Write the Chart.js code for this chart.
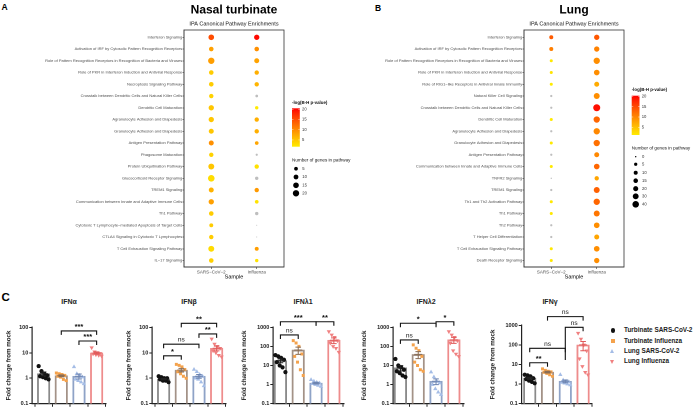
<!DOCTYPE html>
<html>
<head>
<meta charset="utf-8">
<script src="https://cdn.jsdelivr.net/npm/chart.js@4.4.1/dist/chart.umd.min.js"></script>
<style>
  body { margin: 0; background: #fff; width: 696px; height: 408px; overflow: hidden; position: relative;
         font-family: "Liberation Sans", Arial, sans-serif; }
  canvas { position: absolute; }
  .txt { position: absolute; white-space: nowrap; line-height: 1; color: #111; }
  .letter { font-weight: bold; color: #000; }
  .gtitle { font-size: 7px; font-weight: bold; width: 60px; text-align: center; color: #222; top: 298px; }
  .leg { position: absolute; left: 609px; font-size: 6.4px; font-weight: bold; color: #222; line-height: 1; }
  .leg i { display: inline-block; position: absolute; left: 0; }
  .leg span { position: absolute; left: 15px; top: -3.3px; white-space: nowrap; }
</style>
</head>
<body>
<div class="txt letter" style="left:1.5px;top:3px;font-size:8.5px">A</div>
<div class="txt letter" style="left:375px;top:4px;font-size:8.5px">B</div>
<div class="txt letter" style="left:1.5px;top:292px;font-size:11.5px">C</div>

<canvas id="nasal" style="left:0;top:0"></canvas>
<canvas id="lung" style="left:350px;top:0"></canvas>

<div class="txt gtitle" style="left:39px">IFNα</div>
<div class="txt gtitle" style="left:159px">IFNβ</div>
<div class="txt gtitle" style="left:273px">IFNλ1</div>
<div class="txt gtitle" style="left:396px">IFNλ2</div>
<div class="txt gtitle" style="left:520px">IFNγ</div>

<canvas id="ifna" style="left:0;top:300px"></canvas>
<canvas id="ifnb" style="left:120px;top:300px"></canvas>
<canvas id="ifnl1" style="left:240px;top:300px"></canvas>
<canvas id="ifnl2" style="left:360px;top:300px"></canvas>
<canvas id="ifng" style="left:480px;top:300px"></canvas>

<div class="leg" style="top:330.5px"><i style="width:4.4px;height:4.4px;border-radius:50%;background:#111;left:1.5px;top:-2.2px"></i><span>Turbinate SARS-CoV-2</span></div>
<div class="leg" style="top:341px"><i style="width:4px;height:4px;background:#f4a24c;left:1.7px;top:-2px"></i><span>Turbinate Influenza</span></div>
<div class="leg" style="top:351.3px"><i style="width:0;height:0;border-left:2.5px solid transparent;border-right:2.5px solid transparent;border-bottom:4.2px solid #a5bde6;left:1.2px;top:-2.4px"></i><span>Lung SARS-CoV-2</span></div>
<div class="leg" style="top:361.5px"><i style="width:0;height:0;border-left:2.5px solid transparent;border-right:2.5px solid transparent;border-top:4.2px solid #f08080;left:1.2px;top:-2px"></i><span>Lung Influenza</span></div>

<script>
// ---------- panel A / B: IPA pathway enrichment ----------
const samples = ["SARS\u2212CoV\u22122", "Influenza"];

const nasalPathways = [
  "Interferon Signaling",
  "Activation of IRF by Cytosolic Pattern Recognition Receptors",
  "Role of Pattern Recognition Receptors in Recognition of Bacteria and Viruses",
  "Role of PKR in Interferon Induction and Antiviral Response",
  "Necroptosis Signaling Pathway",
  "Crosstalk between Dendritic Cells and Natural Killer Cells",
  "Dendritic Cell Maturation",
  "Agranulocyte Adhesion and Diapedesis",
  "Granulocyte Adhesion and Diapedesis",
  "Antigen Presentation Pathway",
  "Phagosome Maturation",
  "Protein Ubiquitination Pathway",
  "Glucocorticoid Receptor Signaling",
  "TREM1 Signaling",
  "Communication between Innate and Adaptive Immune Cells",
  "Th1 Pathway",
  "Cytotoxic T Lymphocyte\u2212mediated Apoptosis of Target Cells",
  "CTLA4 Signaling in Cytotoxic T Lymphocytes",
  "T Cell Exhaustion Signaling Pathway",
  "IL\u221217 Signaling"
];
// -log(B-H p-value); null = not significant (grey)
const nasalSarsLogP = [15.2, 8.3, 8.5, 4.5, 4.5, 4, 5, 5, 5, 9.6, 4, 5, 3, 6.8, 8.3, 4.5, 4.5, 4.5, 3.2, 4.2];
const nasalSarsGenes = [15, 9, 20, 9, 9, 8, 13, 13, 11, 11, 8, 17, 22, 11, 13, 9, 6, 8, 17, 9];
const nasalFluLogP = [20, 9.6, 8, 7, 6.5, null, 1.9, 7, 7, 7.8, null, 2.7, null, 8.8, 2.5, null, null, null, 8.5, 2.5];
const nasalFluGenes = [13, 9, 11, 8, 8, 2, 4, 8, 8, 5, 1, 8, 4, 8, 5, 4, 0, 0, 6, 4];
const nasalColorTicks = [20, 15, 10, 5];
const nasalSizeTicks = [5, 10, 15, 20];

const lungPathways = [
  "Interferon Signaling",
  "Activation of IRF by Cytosolic Pattern Recognition Receptors",
  "Role of Pattern Recognition Receptors in Recognition of Bacteria and Viruses",
  "Role of PKR in Interferon Induction and Antiviral Response",
  "Role of RIG1\u2212like Receptors in Antiviral Innate Immunity",
  "Natural Killer Cell Signaling",
  "Crosstalk between Dendritic Cells and Natural Killer Cells",
  "Dendritic Cell Maturation",
  "Agranulocyte Adhesion and Diapedesis",
  "Granulocyte Adhesion and Diapedesis",
  "Antigen Presentation Pathway",
  "Communication between Innate and Adaptive Immune Cells",
  "TNFR2 Signaling",
  "TREM1 Signaling",
  "Th1 and Th2 Activation Pathway",
  "Th1 Pathway",
  "Th2 Pathway",
  "T Helper Cell Differentiation",
  "T Cell Exhaustion Signaling Pathway",
  "Death Receptor Signaling"
];
const lungSarsLogP = [13.7, 10.8, 1.6, 2, 1.4, null, null, 1.5, null, 1.5, null, 1.5, null, null, 1.7, 1.7, null, null, 1.7, 1.7];
const lungSarsGenes = [10, 10, 4, 4, 4, 1, 1, 4, 1, 4, 1, 4, 0, 1, 4, 4, 1, 1, 4, 4];
const lungFluLogP = [14, 10.5, 9.5, 9.5, 7, 9.5, 19.5, 12.8, 10, 12, 10, 12.8, 7.5, 13.3, 12.8, 11.5, 9.5, 7.5, 9.5, 9.5];
const lungFluGenes = [23, 23, 36, 27, 19, 31, 47, 36, 36, 36, 19, 27, 13, 31, 36, 31, 27, 19, 27, 23];
const lungColorTicks = [20, 15, 10, 5];
const lungSizeTicks = [0, 5, 10, 15, 20, 30, 40];

// ---------- panel C: fold change from mock ----------
const groups = ["Turbinate SARS-CoV-2", "Turbinate Influenza", "Lung SARS-CoV-2", "Lung Influenza"];

const ifnaPoints = [[3.0, 1.9, 1.5, 1.3, 1.2, 1.1, 1.0, 0.9], [1.6, 1.5, 1.4, 1.3, 1.2, 1.1, 0.9, 0.8],
                    [2.8, 1.5, 1.3, 1.1, 0.9, 0.8, 0.7, 0.6], [16, 11, 10, 9.5, 9, 8.5, 8, 7.5]];
const ifnaMean = [1.5, 1.25, 1.2, 9.8];
const ifnaSem = [0.25, 0.1, 0.27, 1.0];
const ifnaSig = [[1, 3, 72, "***"], [2, 3, 29, "***"]];

const ifnbPoints = [[1.2, 1.1, 1.0, 1.0, 0.9, 0.8, 0.8, 0.7], [3.5, 3.2, 2.8, 2.2, 1.8, 1.5, 1.2, 1.0],
                    [2.2, 1.8, 1.4, 1.2, 1.0, 0.9, 0.7, 0.5], [35, 22, 18, 15, 12, 10, 8, 7]];
const ifnbMean = [0.93, 2.1, 1.2, 15];
const ifnbSem = [0.06, 0.35, 0.2, 3.2];
const ifnbSig = [[1, 3, 143, "**"], [2, 3, 55, "**"], [0, 2, 21.7, "ns"], [0, 1, 7.6, "*"]];

const ifnl1Points = [[35, 30, 25, 20, 15, 10, 8, 4.5], [200, 150, 100, 40, 30, 15, 6, 3],
                     [1.8, 1.5, 1.3, 1.2, 1.1, 1.0, 0.9, 0.8], [600, 400, 300, 200, 150, 100, 80, 50]];
const ifnl1Mean = [18, 65, 1.2, 210];
const ifnl1Sem = [4, 27, 0.12, 70];
const ifnl1Sig = [[0, 2, 1950, "***"], [2, 3, 1950, "**"], [0, 1, 398, "ns"]];

const ifnl2Points = [[22, 10, 8, 6, 5, 4, 3, 2.5], [120, 80, 60, 30, 15, 10, 6, 5],
                     [4.5, 2.5, 1.5, 1.2, 1.0, 0.6, 0.4, 0.3], [600, 400, 300, 200, 150, 60, 40, 30]];
const ifnl2Mean = [7.5, 38, 1.5, 220];
const ifnl2Sem = [2.3, 15, 0.5, 75];
const ifnl2Sig = [[0, 2, 1630, "*"], [2, 3, 1950, "*"], [0, 1, 219, "ns"]];

const ifngPoints = [[3.0, 2.8, 2.5, 2.0, 1.8, 1.5, 1.3, 1.1], [6.0, 5.0, 4.5, 4.2, 4.0, 3.5, 3.0, 2.5],
                    [3.0, 1.6, 1.4, 1.3, 1.2, 1.1, 1.0, 0.9], [400, 200, 100, 50, 20, 8, 4, 3]];
const ifngMean = [2.0, 4.1, 1.4, 100];
const ifngSem = [0.25, 0.4, 0.23, 50];
const ifngSig = [[1, 3, 2770, "ns"], [2, 3, 794, "ns", 17], [0, 2, 67, "ns"], [0, 1, 12.3, "**"]];

const ticks100 = [0.1, 1, 10, 100];
const ticks1000 = [0.1, 1, 10, 100, 1000];

// ---------- styling ----------
const FONT = '"Liberation Sans", Arial, sans-serif';
Chart.defaults.font.family = FONT;
const barEdge = ["#8a8a8a", "#a39287", "#8fa3c7", "#ee8c8c"];
const errColor = ["#222222", "#8a6d55", "#6d84b0", "#e05a5a"];
const dotColor = ["#111111", "#f4a24c", "#a5bde6", "#f08080"];
const dotStyle = ["circle", "rect", "triangle", "triangle"];

function heat(v, lo, hi) {
  if (v === null) return "#bebebe";
  const t = Math.min(1, Math.max(0, (v - lo) / (hi - lo)));
  return `rgb(255,${Math.round(236 * Math.pow(1 - t, 0.9))},0)`;
}

const boxPlugin = {
  id: "box",
  afterDraw(chart) {
    const { ctx, chartArea: a } = chart;
    ctx.save();
    ctx.strokeStyle = "#333";
    ctx.lineWidth = 0.8;
    ctx.strokeRect(a.left, a.top, a.right - a.left, a.bottom - a.top);
    ctx.restore();
  }
};

const heatLegend = {
  id: "heatLegend",
  afterDraw(chart, args, o) {
    const ctx = chart.ctx;
    ctx.save();
    ctx.fillStyle = "#111";
    ctx.textBaseline = "middle";
    ctx.font = `bold 4.4px ${FONT}`;
    ctx.fillText("-log(B-H p-value)", o.x, o.titleY);
    const g = ctx.createLinearGradient(0, o.barBottom, 0, o.barTop);
    for (let i = 0; i <= 10; i++) g.addColorStop(i / 10, heat(o.lo + (o.hi - o.lo) * i / 10, o.lo, o.hi));
    ctx.fillStyle = g;
    ctx.fillRect(o.x, o.barTop, 7.8, o.barBottom - o.barTop);
    ctx.font = `4.2px ${FONT}`;
    o.colorTicks.forEach(v => {
      const yy = o.barBottom - (v - o.lo) / (o.hi - o.lo) * (o.barBottom - o.barTop);
      ctx.strokeStyle = "#fff";
      ctx.lineWidth = 0.4;
      ctx.beginPath(); ctx.moveTo(o.x, yy); ctx.lineTo(o.x + 1.5, yy);
      ctx.moveTo(o.x + 6.3, yy); ctx.lineTo(o.x + 7.8, yy); ctx.stroke();
      ctx.fillStyle = "#333";
      ctx.fillText(String(v), o.x + 10, yy);
    });
    ctx.fillStyle = "#111";
    ctx.font = `4.6px ${FONT}`;
    ctx.fillText("Number of genes in pathway", o.x, o.sizeTitleY);
    o.sizeTicks.forEach((v, i) => {
      const yy = o.sizeY[i];
      ctx.fillStyle = "#000";
      ctx.beginPath(); ctx.arc(o.x + 4, yy, o.size(v), 0, Math.PI * 2); ctx.fill();
      ctx.fillStyle = "#333";
      ctx.font = `4.2px ${FONT}`;
      ctx.fillText(String(v), o.x + 10.3, yy);
    });
    ctx.restore();
  }
};

function pathwayChart(id, width, title, pathways, sarsP, sarsG, fluP, fluG, o) {
  const pts = [];
  pathways.forEach((p, i) => {
    pts.push({ x: 0, y: i, r: o.size(sarsG[i]), c: heat(sarsP[i], o.lo, o.hi) });
    pts.push({ x: 1, y: i, r: o.size(fluG[i]), c: heat(fluP[i], o.lo, o.hi) });
  });
  new Chart(document.getElementById(id), {
    type: "bubble",
    data: { datasets: [{ data: pts, backgroundColor: c => (c.raw ? c.raw.c : "#bebebe"), borderWidth: 0 }] },
    options: {
      responsive: false, animation: false, devicePixelRatio: 2,
      layout: { padding: { left: 0, right: o.padRight, top: 0, bottom: 0 } },
      plugins: {
        legend: { display: false }, tooltip: { enabled: false },
        title: { display: true, text: title, fullSize: false, color: "#000",
                 font: { size: 12, weight: "bold" }, padding: { top: 3, bottom: 2 } },
        subtitle: { display: true, text: "IPA Canonical Pathway Enrichments", fullSize: false, color: "#111",
                    font: { size: 5.5 }, padding: { top: 1.3, bottom: 2.7 } },
        heatLegend: o
      },
      scales: {
        x: {
          type: "linear", min: -0.6, max: 1.6,
          afterBuildTicks: s => { s.ticks = samples.map((_, i) => ({ value: i })); },
          afterFit: s => { s.height = 16; },
          ticks: { callback: v => samples[v], font: { size: 4.5 }, color: "#4d4d4d", padding: 0.5, autoSkip: false, maxRotation: 0 },
          grid: { drawOnChartArea: false, tickLength: 2, color: "#333", lineWidth: 0.6 },
          border: { color: "#333", width: 0.8 },
          title: { display: true, text: "Sample", color: "#000", font: { size: 5.5 }, padding: { top: 0, bottom: 2.7 } }
        },
        y: {
          type: "linear", reverse: true, min: -0.62, max: 19.55,
          afterBuildTicks: s => { s.ticks = pathways.map((_, i) => ({ value: i })); },
          afterFit: s => { s.width = o.axisWidth; },
          ticks: { callback: v => pathways[v], font: { size: 4 }, color: "#4d4d4d", padding: 0.3, autoSkip: false },
          grid: { drawOnChartArea: false, tickLength: 1.5, color: "#333", lineWidth: 0.6 },
          border: { color: "#333", width: 0.8 }
        }
      }
    },
    plugins: [boxPlugin, heatLegend]
  });
  const cv = document.getElementById(id);
  cv.style.width = width + "px";
}

const nasalSize = g => 0.5 + 0.6 * Math.sqrt(g);
const lungSize = g => 0.7 + 0.41 * Math.sqrt(g);

document.getElementById("nasal").width = 360; document.getElementById("nasal").height = 283;
document.getElementById("lung").width = 346; document.getElementById("lung").height = 283;

pathwayChart("nasal", 360, "Nasal turbinate", nasalPathways, nasalSarsLogP, nasalSarsGenes, nasalFluLogP, nasalFluGenes, {
  axisWidth: 184, padRight: 76, lo: 1.7, hi: 20.5, size: nasalSize,
  x: 292, titleY: 103, barTop: 108.3, barBottom: 146.7, colorTicks: nasalColorTicks,
  sizeTitleY: 160, sizeTicks: nasalSizeTicks, sizeY: [168.7, 177, 185.3, 193.3]
});
pathwayChart("lung", 346, "Lung", lungPathways, lungSarsLogP, lungSarsGenes, lungFluLogP, lungFluGenes, {
  axisWidth: 174, padRight: 72, lo: 1.3, hi: 20.3, size: lungSize,
  x: 281.7, titleY: 90, barTop: 95.7, barBottom: 135, colorTicks: lungColorTicks,
  sizeTitleY: 148.3, sizeTicks: lungSizeTicks, sizeY: [156.7, 164.3, 172.7, 180.7, 188.7, 196.3, 204.3]
});

// ---------- fold-change bar charts ----------
const errorBars = {
  id: "errorBars",
  afterDatasetsDraw(chart) {
    const ds = chart.data.datasets[0];
    const meta = chart.getDatasetMeta(0);
    const y = chart.scales.y, ctx = chart.ctx;
    ctx.save();
    ctx.lineWidth = 1;
    meta.data.forEach((bar, i) => {
      const m = ds.data[i].y, s = ds.sem[i];
      const yt = y.getPixelForValue(m + s), yb = y.getPixelForValue(Math.max(m - s, 0.1));
      const ym = y.getPixelForValue(m);
      ctx.strokeStyle = errColor[i];
      ctx.beginPath();
      ctx.moveTo(bar.x, yt); ctx.lineTo(bar.x, yb);
      ctx.moveTo(bar.x - 2.8, yt); ctx.lineTo(bar.x + 2.8, yt);
      ctx.moveTo(bar.x - 2.8, yb); ctx.lineTo(bar.x + 2.8, yb);
      ctx.moveTo(bar.x - 4, ym); ctx.lineTo(bar.x + 4, ym);
      ctx.stroke();
    });
    ctx.restore();
  }
};

const sigBrackets = {
  id: "sigBrackets",
  afterDatasetsDraw(chart, args, opts) {
    const { ctx, scales: { x, y } } = chart;
    ctx.save();
    ctx.strokeStyle = "#111"; ctx.fillStyle = "#111"; ctx.lineWidth = 1.1;
    ctx.textAlign = "center"; ctx.textBaseline = "alphabetic";
    (opts.list || []).forEach(([a, b, v, text, legTo]) => {
      const xa = x.getPixelForValue(a), xb = x.getPixelForValue(b), yp = y.getPixelForValue(v);
      const la = legTo ? y.getPixelForValue(legTo) : yp + 4;
      ctx.beginPath();
      ctx.moveTo(xa, la); ctx.lineTo(xa, yp); ctx.lineTo(xb, yp); ctx.lineTo(xb, yp + 4);
      ctx.stroke();
      if (text === "ns") { ctx.font = `6.5px ${FONT}`; ctx.fillText(text, (xa + xb) / 2, yp - 2.5); }
      else { ctx.font = `bold 7.5px ${FONT}`; ctx.fillText(text, (xa + xb) / 2, yp - 1.8); }
    });
    ctx.restore();
  }
};

// horizontal spread of the dots inside each bar (layout only)
const spread = k => ((k % 4) - 1.5) * 0.16 + (k >= 4 ? 0.08 : 0) - 0.04;

function foldChart(id, points, mean, sem, sig, yTicks, o) {
  const cv = document.getElementById(id);
  cv.width = 120; cv.height = 108;
  const datasets = [{
    type: "bar", data: mean.map((m, i) => ({ x: i, y: m })), sem,
    backgroundColor: "rgba(255,255,255,0)", borderColor: barEdge, borderWidth: 1.2,
    barThickness: 12.5, order: 2
  }];
  points.forEach((arr, g) => datasets.push({
    type: "scatter", label: groups[g], order: 1,
    data: arr.map((v, k) => ({ x: g + spread(k), y: v })),
    pointStyle: dotStyle[g], pointRotation: g === 3 ? 180 : 0,
    pointRadius: g === 0 ? 2.1 : g === 1 ? 2.1 : 2.5,
    pointBackgroundColor: dotColor[g], pointBorderColor: dotColor[g], pointBorderWidth: 0
  }));
  new Chart(cv, {
    type: "bar",
    data: { datasets },
    options: {
      responsive: false, animation: false, devicePixelRatio: 2,
      layout: { padding: { left: 0, right: o.padRight, top: o.padTop, bottom: 0 } },
      plugins: { legend: { display: false }, tooltip: { enabled: false }, sigBrackets: { list: sig } },
      scales: {
        x: {
          type: "linear", min: o.xmin, max: o.xmax, offset: false,
          afterBuildTicks: s => { s.ticks = groups.map((_, i) => ({ value: i })); },
          afterFit: s => { s.height = o.xHeight; },
          ticks: { display: false },
          grid: { drawOnChartArea: false, tickLength: 3, color: "#222", lineWidth: 1 },
          border: { color: "#222", width: 1.2 }
        },
        y: {
          type: "logarithmic", min: 0.1, max: yTicks[yTicks.length - 1],
          afterBuildTicks: s => { s.ticks = yTicks.map(v => ({ value: v })); },
          afterFit: s => { s.width = o.axisWidth; },
          ticks: { callback: v => String(v), font: { size: 5.5, weight: "bold" }, color: "#222", padding: 1, autoSkip: false },
          grid: { drawOnChartArea: false, tickLength: 3, color: "#222", lineWidth: 1 },
          border: { color: "#222", width: 1.2 },
          title: { display: true, text: "Fold change from mock", color: "#222",
                   font: { size: 6.2, weight: "bold" }, padding: { top: o.titlePad, bottom: 0 } }
        }
      }
    },
    plugins: [errorBars, sigBrackets]
  });
}

foldChart("ifna", ifnaPoints, ifnaMean, ifnaSem, ifnaSig, ticks100,
  { axisWidth: 32.3, padRight: 14, padTop: 27.3, xHeight: 3.7, xmin: -0.64, xmax: 3.53, titlePad: 5.3 });
foldChart("ifnb", ifnbPoints, ifnbMean, ifnbSem, ifnbSig, ticks100,
  { axisWidth: 32.3, padRight: 14, padTop: 27.3, xHeight: 3.7, xmin: -0.64, xmax: 3.53, titlePad: 5.3 });
foldChart("ifnl1", ifnl1Points, ifnl1Mean, ifnl1Sem, ifnl1Sig, ticks1000,
  { axisWidth: 33.3, padRight: 16, padTop: 27.3, xHeight: 3.7, xmin: -0.4, xmax: 3.57, titlePad: 0.8 });
foldChart("ifnl2", ifnl2Points, ifnl2Mean, ifnl2Sem, ifnl2Sig, ticks1000,
  { axisWidth: 33.3, padRight: 16, padTop: 27.3, xHeight: 3.7, xmin: -0.4, xmax: 3.57, titlePad: 0.8 });
foldChart("ifng", ifngPoints, ifngMean, ifngSem, ifngSig, ticks1000,
  { axisWidth: 41.7, padRight: 8, padTop: 25.3, xHeight: 4.3, xmin: -0.45, xmax: 3.5, titlePad: 9.3 });
</script>
</body>
</html>
